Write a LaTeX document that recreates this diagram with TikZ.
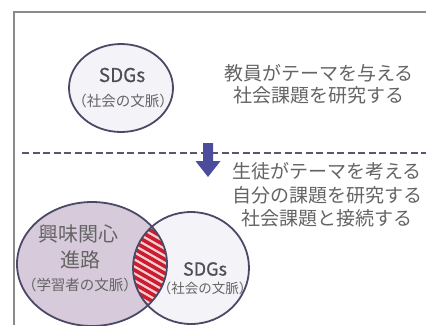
\documentclass[tikz,border=0pt]{standalone}
\usepackage{fontspec}
\setmainfont{Noto Sans CJK JP}
\newfontfamily\heavyfont{Noto Sans CJK JP}[FakeBold=0.6]
\usepackage{tikz}
\usetikzlibrary{positioning}
\definecolor{framegray}{HTML}{8A8A8A}
\definecolor{ringline}{HTML}{4A4A68}
\definecolor{paleface}{HTML}{F4F3F8}
\definecolor{lilac}{HTML}{D7CADB}
\definecolor{textgray}{HTML}{646464}
\definecolor{sdgsgray}{HTML}{4F4F58}
\definecolor{dashline}{HTML}{55586E}
\definecolor{arrowblue}{HTML}{4B4C9C}
\definecolor{hatchred}{HTML}{C81E30}
\definecolor{hatchpink}{HTML}{F6CDD3}
\tikzset{ring/.style = {draw=ringline, line width=1.8}}
\tikzset{txt/.style = {inner sep=0, text=textgray}}
\tikzset{sdgs/.style = {inner sep=0, text=sdgsgray}}
\newcommand{\fs}[2]{\fontsize{#1}{#2}\selectfont}

\begin{document}
\begin{tikzpicture}[x=1pt, y=-1pt]
      \useasboundingbox (0,0) rectangle (426,325);
      \coordinate (top) at (121,88);
      \coordinate (own) at (92,264);
      \coordinate (soc) at (191,268);

      \fill [paleface] (top) ellipse (52 and 44);
      \fill [lilac] (own) ellipse (75 and 62);
      \fill [paleface] (soc) ellipse (58 and 56);
      \begin{scope}
        \clip (own) ellipse (75 and 62);
        \clip (soc) ellipse (58 and 56);
        \fill [hatchpink] (soc) ellipse (58 and 56);
        \foreach \k in {0,...,18}
          \draw [hatchred, line width=3.6] (110, 172+7*\k) -- ++(70, 40);
      \end{scope}
      \draw [ring] (top) ellipse (52 and 44);
      \draw [ring] (own) ellipse (75 and 62);
      \draw [ring] (soc) ellipse (58 and 56);

      \draw [framegray, line width=2] (426,12) -- (14,12) -- (14,325);
      \draw [dashline, line width=2.4, dash pattern=on 7 off 3.5] (22,153) -- (426,153);
      \fill [arrowblue] (203,143) -- (213,143) -- (213,161) -- (220.5,161)
        -- (208,177) -- (195.5,161) -- (203,161) -- cycle;

      \node (topsdgs) at (122,75) [sdgs, font=\heavyfont\fs{19}{22}] {SDGs};
      \node (topctx) at (123,101) [txt, font=\fs{14.5}{17}] {（社会の文脈）};
      \node (teach) at (319,84) [txt, align=center, font=\fs{19}{22}] {教員がテーマを与える\\社会課題を研究する};
      \node (learn) at (327,195) [txt, align=center, font=\fs{19}{23.5}] {生徒がテーマを考える\\自分の課題を研究する\\社会課題と接続する};
      \node (int) at (78,234) [txt, font=\fs{20}{24}] {興味関心};
      \node (path) at (80,260) [txt, font=\fs{20}{24}] {進路};
      \node (lctx) at (80,285) [txt, font=\fs{14.5}{17}] {（学習者の文脈）};
      \node (socsdgs) at (205,269) [sdgs, font=\heavyfont\fs{18}{21}] {SDGs};
      \node (socctx) at (205,288) [txt, font=\fs{13.5}{16}] {（社会の文脈）};
    \end{tikzpicture}
\end{document}
